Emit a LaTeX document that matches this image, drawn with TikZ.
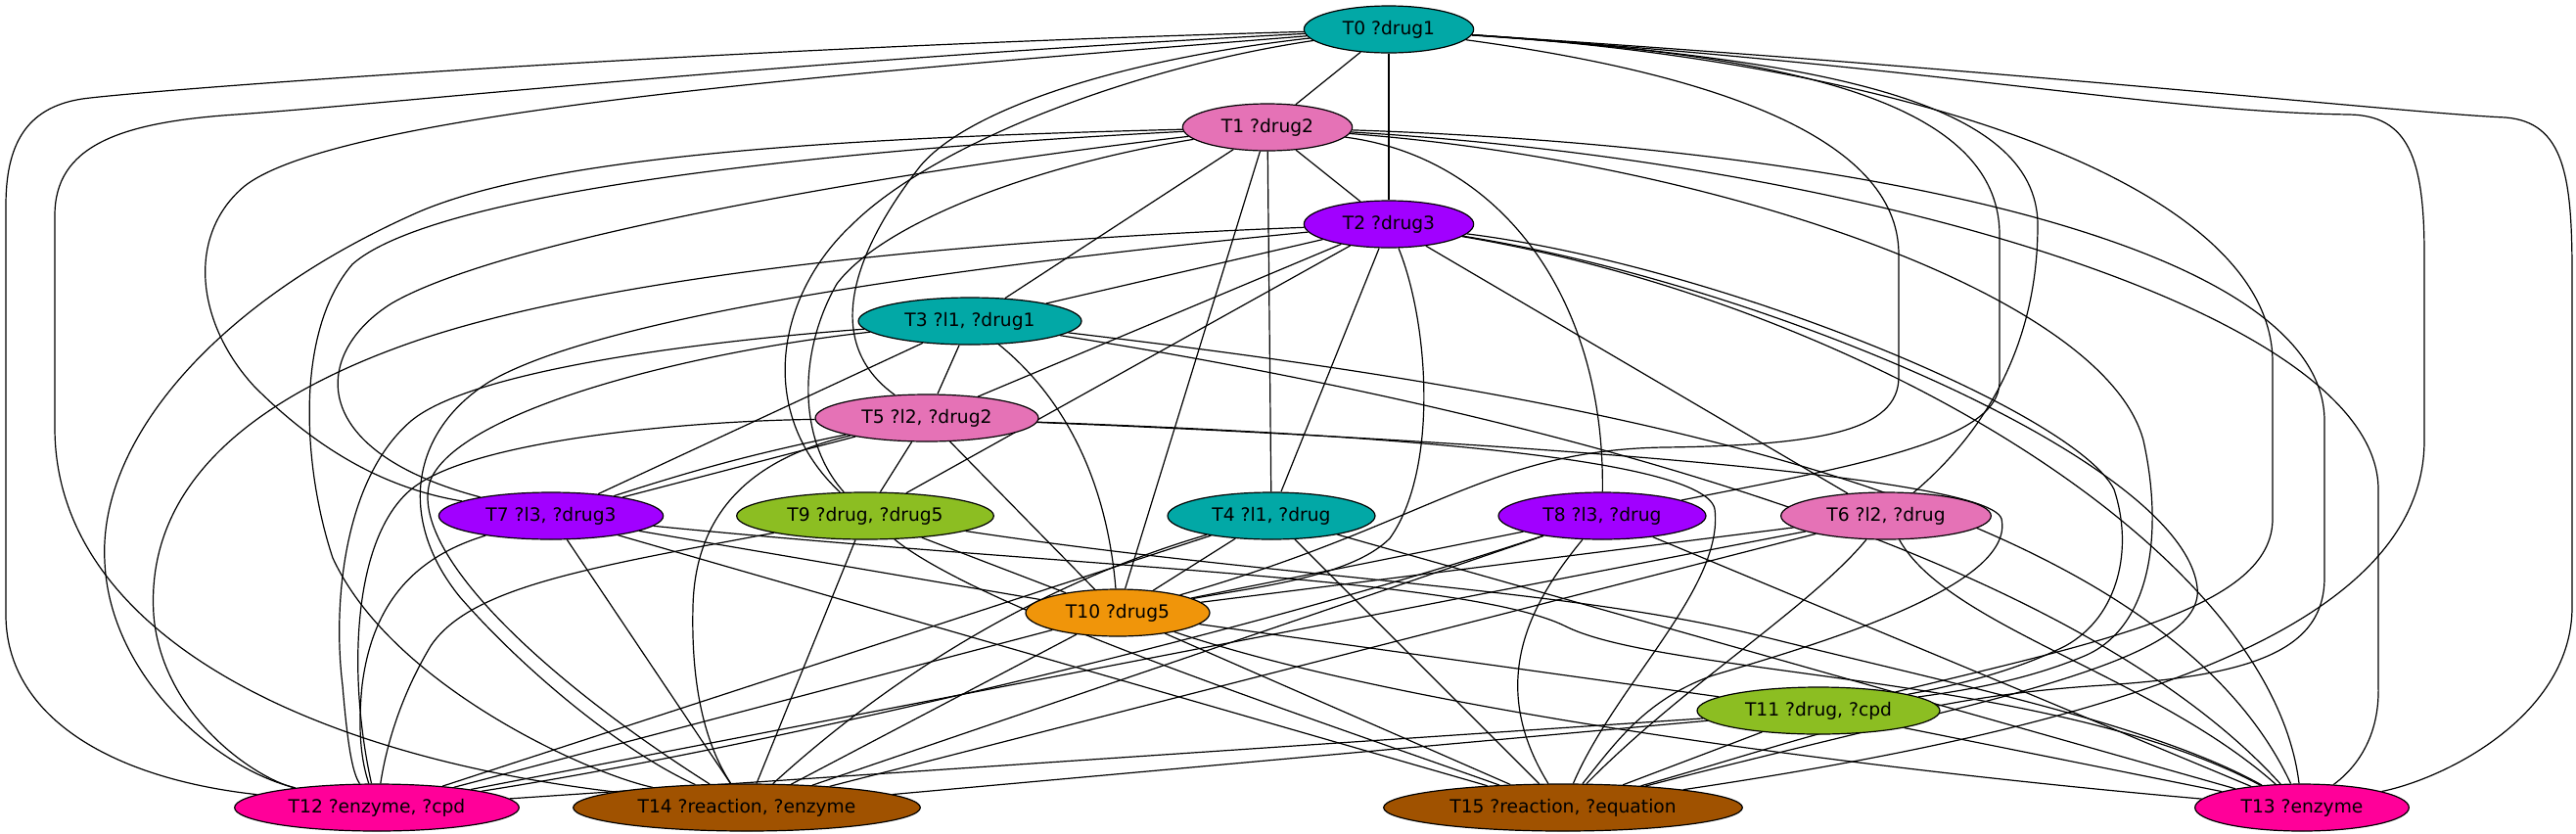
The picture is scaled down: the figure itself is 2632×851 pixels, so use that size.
\documentclass[tikz,border=0pt]{standalone}
\usepackage{fontspec}
\setmainfont{DejaVu Sans}
\usetikzlibrary{shapes.geometric}
\pgfdeclarelayer{bg}
\pgfsetlayers{bg,main}
\definecolor{cteal}{HTML}{02A8A6}
\definecolor{cpink}{HTML}{E572B6}
\definecolor{cpurple}{HTML}{A100FF}
\definecolor{cgreen}{HTML}{8CBE22}
\definecolor{corange}{HTML}{F0950A}
\definecolor{cmag}{HTML}{FF0099}
\definecolor{cbrown}{HTML}{A05200}
\begin{document}
\begin{tikzpicture}[x=0.75pt,y=-0.75pt,
  tn/.style={ellipse,draw=black,line width=0.9pt,minimum height=36pt,inner sep=0pt,font=\fontsize{14}{16}\selectfont},
  ed/.style={draw=black,line width=0.9pt}]
\useasboundingbox (0,0) rectangle (2632,851);
% nodes
\node[tn,fill=cteal,minimum width=130pt] (T0) at (1419,30) {T0 ?drug1};
\node[tn,fill=cpink,minimum width=130pt] (T1) at (1295,130) {T1 ?drug2};
\node[tn,fill=cpurple,minimum width=130pt] (T2) at (1419,229) {T2 ?drug3};
\node[tn,fill=cteal,minimum width=171pt] (T3) at (991,328) {T3 ?l1, ?drug1};
\node[tn,fill=cpink,minimum width=171pt] (T5) at (947,427) {T5 ?l2, ?drug2};
\node[tn,fill=cpurple,minimum width=172pt] (T7) at (563,527) {T7 ?l3, ?drug3};
\node[tn,fill=cgreen,minimum width=197pt] (T9) at (884,527) {T9 ?drug, ?drug5};
\node[tn,fill=cteal,minimum width=159pt] (T4) at (1299,527) {T4 ?l1, ?drug};
\node[tn,fill=cpurple,minimum width=159pt] (T8) at (1637,527) {T8 ?l3, ?drug};
\node[tn,fill=cpink,minimum width=161pt] (T6) at (1927,527) {T6 ?l2, ?drug};
\node[tn,fill=corange,minimum width=141pt] (T10) at (1142,626) {T10 ?drug5};
\node[tn,fill=cgreen,minimum width=186pt] (T11) at (1858,726) {T11 ?drug, ?cpd};
\node[tn,fill=cmag,minimum width=218pt] (T12) at (385,825) {T12 ?enzyme, ?cpd};
\node[tn,fill=cbrown,minimum width=266pt] (T14) at (763,825) {T14 ?reaction, ?enzyme};
\node[tn,fill=cbrown,minimum width=275pt] (T15) at (1597,825) {T15 ?reaction, ?equation};
\node[tn,fill=cmag,minimum width=164pt] (T13) at (2352,825) {T13 ?enzyme};
\begin{pgfonlayer}{bg}
\fill[white] (0,0) rectangle (2632,851);
% straight edges
\draw[ed] (T0)--(T1); \draw[ed] (T0)--(T2); \draw[ed] (T1)--(T2);
\draw[ed] (T1)--(T3); \draw[ed] (T1)--(T4); \draw[ed] (T1)--(T10);
\draw[ed] (T2)--(T3); \draw[ed] (T2)--(T5); \draw[ed] (T2)--(T9);
\draw[ed] (T2)--(T4); \draw[ed] (T2)--(T6); \draw[ed] (T3)--(T5);
\draw[ed] (T3)--(T7); \draw[ed] (T5)--(T9); \draw[ed] (T5)--(T10);
\draw[ed] (T5)--(T7); \draw[ed] (T5) to[bend right=3] (T7);
\draw[ed] (T9)--(T10); \draw[ed] (T4)--(T10); \draw[ed] (T7)--(T10);
\draw[ed] (T8)--(T10); \draw[ed] (T6)--(T10);
\draw[ed] (T7)--(T14); \draw[ed] (T7)--(T15); \draw[ed] (T9)--(T14);
\draw[ed] (T4)--(T15); \draw[ed] (T4)--(T12); \draw[ed] (T4)--(T13);
\draw[ed] (T10)--(T14); \draw[ed] (T10)--(T15); \draw[ed] (T10)--(T12);
\draw[ed] (T10)--(T11); \draw[ed] (T8)--(T14); \draw[ed] (T8)--(T13);
\draw[ed] (T6)--(T12); \draw[ed] (T6)--(T14);
\draw[ed] (T11)--(T12); \draw[ed] (T11)--(T14); \draw[ed] (T11)--(T15); \draw[ed] (T11)--(T13);
% curved, lower
\draw[ed] (T9) .. controls (1000,620) and (1300,720) .. (T15);
\draw[ed] (T8) .. controls (1300,640) and (800,760) .. (T12);
\draw[ed] (T10) .. controls (1450,730) and (1950,790) .. (T13);
\draw[ed] (T4) .. controls (1050,600) and (900,700) .. (T14);
\draw[ed] (T6) .. controls (1850,620) and (1720,700) .. (T15);
\draw[ed] (T8) .. controls (1560,620) and (1520,700) .. (T15);
\draw[ed] (T6) .. controls (1990,640) and (2200,690) .. (T13);
% T0 left
\draw[ed] (T0) .. controls (700,50) and (150,92) .. (84,101) .. controls (25,110) and (6,150) .. (6,210) -- (6,628) .. controls (6,730) and (110,795) .. (T12);
\draw[ed] (T0) .. controls (800,62) and (400,106) .. (241,117) .. controls (120,125) and (56,150) .. (56,220) -- (56,437) .. controls (56,640) and (300,770) .. (T14);
\draw[ed] (T0) .. controls (900,72) and (350,112) .. (250,190) .. controls (190,240) and (200,330) .. (260,395) .. controls (330,465) and (400,500) .. (T7);
\draw[ed] (T0) .. controls (1150,60) and (990,110) .. (940,170) .. controls (870,260) and (840,350) .. (T5);
\draw[ed] (T0) .. controls (1150,70) and (950,150) .. (870,230) .. controls (795,300) and (770,420) .. (T9);
% T0 right
\draw[ed] (T0) .. controls (1750,75) and (1940,140) .. (1940,260) -- (1940,385) .. controls (1940,440) and (1860,455) .. (1700,457) .. controls (1520,460) and (1460,535) .. (T10);
\draw[ed] (T0) .. controls (1800,55) and (2043,95) .. (2043,240) -- (2043,390) .. controls (2043,450) and (1900,475) .. (T8);
\draw[ed] (T0) .. controls (1850,60) and (2082,100) .. (2082,230) .. controls (2082,350) and (2030,440) .. (T6);
\draw[ed] (T0) .. controls (1950,65) and (2322,190) .. (2322,370) -- (2322,530) .. controls (2322,620) and (2150,655) .. (T11);
\draw[ed] (T0) .. controls (2000,70) and (2200,114) .. (2400,117) .. controls (2460,118) and (2477,160) .. (2477,260) -- (2477,450) .. controls (2477,660) and (2100,750) .. (T15);
\draw[ed] (T0) .. controls (2100,75) and (2450,115) .. (2560,120) .. controls (2620,125) and (2628,180) .. (2628,280) -- (2628,620) .. controls (2628,730) and (2500,795) .. (T13);
% T1
\draw[ed] (T1) .. controls (1050,170) and (900,230) .. (855,290) .. controls (815,360) and (815,450) .. (T9);
\draw[ed] (T1) .. controls (900,140) and (560,155) .. (420,220) .. controls (220,310) and (100,450) .. (107,574) .. controls (112,690) and (220,785) .. (T12);
\draw[ed] (T1) .. controls (900,150) and (450,190) .. (360,270) .. controls (300,340) and (310,480) .. (340,570) .. controls (400,700) and (600,790) .. (T14);
\draw[ed] (T1) .. controls (950,170) and (520,240) .. (400,310) .. controls (320,360) and (310,460) .. (T7);
\draw[ed] (T1) .. controls (1530,160) and (1640,300) .. (T8);
\draw[ed] (T1) .. controls (1750,165) and (2150,300) .. (2190,450) .. controls (2210,540) and (2200,640) .. (2130,670) .. controls (2070,695) and (2010,705) .. (T11);
\draw[ed] (T1) .. controls (1900,150) and (2375,250) .. (2375,430) -- (2375,590) .. controls (2375,665) and (2300,690) .. (2150,700) .. controls (1950,712) and (1830,760) .. (T15);
\draw[ed] (T1) .. controls (1900,165) and (2430,320) .. (2430,500) -- (2430,700) .. controls (2432,760) and (2400,790) .. (T13);
% T2
\draw[ed] (T2) .. controls (1000,245) and (620,280) .. (420,350) .. controls (220,420) and (150,520) .. (157,628) .. controls (165,730) and (260,795) .. (T12);
\draw[ed] (T2) .. controls (1000,270) and (620,320) .. (500,390) .. controls (420,440) and (405,530) .. (470,610) .. controls (540,690) and (640,770) .. (T14);
\draw[ed] (T2) .. controls (1460,330) and (1470,480) .. (1420,550) .. controls (1380,590) and (1280,600) .. (T10);
\draw[ed] (T2) .. controls (1750,270) and (2120,420) .. (2160,500) .. controls (2180,560) and (2165,630) .. (2110,660) .. controls (2060,685) and (2000,700) .. (T11);
\draw[ed] (T2) .. controls (1800,290) and (2230,470) .. (2245,600) .. controls (2255,680) and (2000,720) .. (T15);
\draw[ed] (T2) .. controls (1900,310) and (2320,560) .. (T13);
% T3
\draw[ed] (T3) .. controls (700,350) and (480,380) .. (420,430) .. controls (350,490) and (340,620) .. (350,700) .. controls (355,760) and (360,790) .. (T12);
\draw[ed] (T3) .. controls (700,360) and (470,420) .. (440,490) .. controls (415,560) and (550,690) .. (T14);
\draw[ed] (T3) .. controls (1080,400) and (1130,480) .. (T10);
\draw[ed] (T3) .. controls (1600,400) and (2200,500) .. (T13);
\draw[ed] (T3) .. controls (1600,425) and (2120,570) .. (T13);
% T5
\draw[ed] (T5) .. controls (700,430) and (480,450) .. (420,500) .. controls (360,550) and (355,690) .. (T12);
\draw[ed] (T5) .. controls (760,470) and (710,530) .. (708,620) .. controls (706,700) and (720,760) .. (T14);
\draw[ed] (T5) .. controls (1300,440) and (1740,460) .. (1752,520) .. controls (1762,600) and (1650,700) .. (T15);
\draw[ed] (T5) .. controls (1400,445) and (2030,480) .. (2045,530) .. controls (2060,600) and (1850,660) .. (1750,690) .. controls (1680,715) and (1650,760) .. (T15);
% T7, T9
\draw[ed] (T7) .. controls (420,570) and (380,620) .. (370,700) .. controls (365,750) and (370,780) .. (T12);
\draw[ed] (T7) .. controls (1100,580) and (1500,590) .. (1600,640) .. controls (1700,690) and (2100,690) .. (T13);
\draw[ed] (T9) .. controls (600,580) and (480,600) .. (440,660) .. controls (410,710) and (395,760) .. (T12);
\draw[ed] (T9) .. controls (1300,590) and (1600,600) .. (1800,650) .. controls (2000,700) and (2200,740) .. (T13);
\end{pgfonlayer}
\end{tikzpicture}
\end{document}
